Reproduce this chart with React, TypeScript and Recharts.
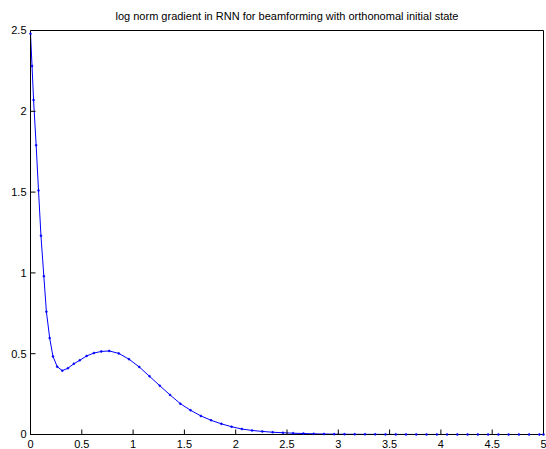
import React from "react";
import { LineChart, Line, XAxis, YAxis } from "recharts";

const xs = [
  0, 0.015, 0.03, 0.055, 0.078, 0.102, 0.13, 0.155, 0.187, 0.219, 0.26, 0.31,
  0.365, 0.423, 0.48, 0.547, 0.618, 0.69, 0.767, 0.86, 0.96, 1.06, 1.16, 1.26,
  1.36, 1.46, 1.56, 1.66, 1.76, 1.86, 1.96, 2.06, 2.16, 2.26, 2.36, 2.46, 2.56,
  2.66, 2.76, 2.86, 2.96, 3.06, 3.16, 3.26, 3.36, 3.46, 3.56, 3.66, 3.76, 3.86,
  3.96, 4.06, 4.16, 4.26, 4.36, 4.46, 4.56, 4.66, 4.76, 4.86, 4.96, 5.0,
];

const logNorm = [
  2.48, 2.28, 2.07, 1.79, 1.51, 1.23, 0.98, 0.76, 0.597, 0.483, 0.42, 0.395,
  0.41, 0.438, 0.459, 0.486, 0.504, 0.514, 0.517, 0.502, 0.466, 0.418, 0.36,
  0.302, 0.245, 0.191, 0.15, 0.115, 0.088, 0.066, 0.048, 0.034, 0.025, 0.019,
  0.014, 0.011, 0.008, 0.006, 0.004, 0.003, 0.002, 0.0016, 0.0012, 0.001,
  0.0008, 0.0006, 0.0005, 0.0004, 0.0003, 0.0002, 0.0002, 0.0001, 0.0001,
  0.0001, 0.0001, 0, 0, 0, 0, 0, 0, 0,
];

const xTicks = [0, 0.5, 1, 1.5, 2, 2.5, 3, 3.5, 4, 4.5, 5];
const yTicks = [0, 0.5, 1, 1.5, 2, 2.5];

const title =
  "log norm gradient in RNN for beamforming with orthonomal initial state";

const data = xs.map((x, i) => ({ x, y: logNorm[i] }));

const font = "'Liberation Sans', Arial, sans-serif";
const tickStyle = { fontSize: 11, fill: "#000", fontFamily: font };
const axisLine = { stroke: "#000", strokeWidth: 1 };

const App = () => {
  return (
    <div
      style={{
        position: "absolute",
        left: 0,
        top: 0,
        width: 546,
        height: 449,
        background: "#fff",
      }}
    >
      <LineChart
        width={546}
        height={449}
        data={data}
        margin={{ top: 0.5, right: 0.5, left: 0.5, bottom: 0.5 }}
      >
        <XAxis
          dataKey="x"
          type="number"
          domain={[0, 5]}
          ticks={xTicks}
          interval={0}
          height={14}
          axisLine={axisLine}
          tickLine={{ stroke: "#000" }}
          tickSize={-5}
          tickMargin={10.5}
          tick={tickStyle}
        />
        <XAxis
          xAxisId="top"
          orientation="top"
          dataKey="x"
          type="number"
          domain={[0, 5]}
          ticks={xTicks}
          interval={0}
          height={30}
          axisLine={axisLine}
          tickLine={{ stroke: "#000" }}
          tickSize={-5}
          tick={false}
        />
        <YAxis
          type="number"
          domain={[0, 2.5]}
          ticks={yTicks}
          interval={0}
          width={30}
          axisLine={axisLine}
          tickLine={{ stroke: "#000" }}
          tickSize={-5}
          tickMargin={9}
          tick={tickStyle}
        />
        <YAxis
          yAxisId="right"
          orientation="right"
          type="number"
          domain={[0, 2.5]}
          ticks={yTicks}
          interval={0}
          width={2}
          axisLine={axisLine}
          tickLine={{ stroke: "#000" }}
          tickSize={-5}
          tick={false}
        />
        <Line
          type="linear"
          dataKey="y"
          stroke="#0000ff"
          strokeWidth={1}
          dot={{ r: 1, fill: "#0000ff", stroke: "#0000ff", strokeWidth: 0.5 }}
          isAnimationActive={false}
        />
      </LineChart>
      <svg
        width={546}
        height={30}
        style={{ position: "absolute", left: 0, top: 0 }}
      >
        <text
          x={287}
          y={20}
          textAnchor="middle"
          fontSize={11}
          fontFamily={font}
          fill="#000"
        >
          {title}
        </text>
      </svg>
    </div>
  );
};

export default App;
